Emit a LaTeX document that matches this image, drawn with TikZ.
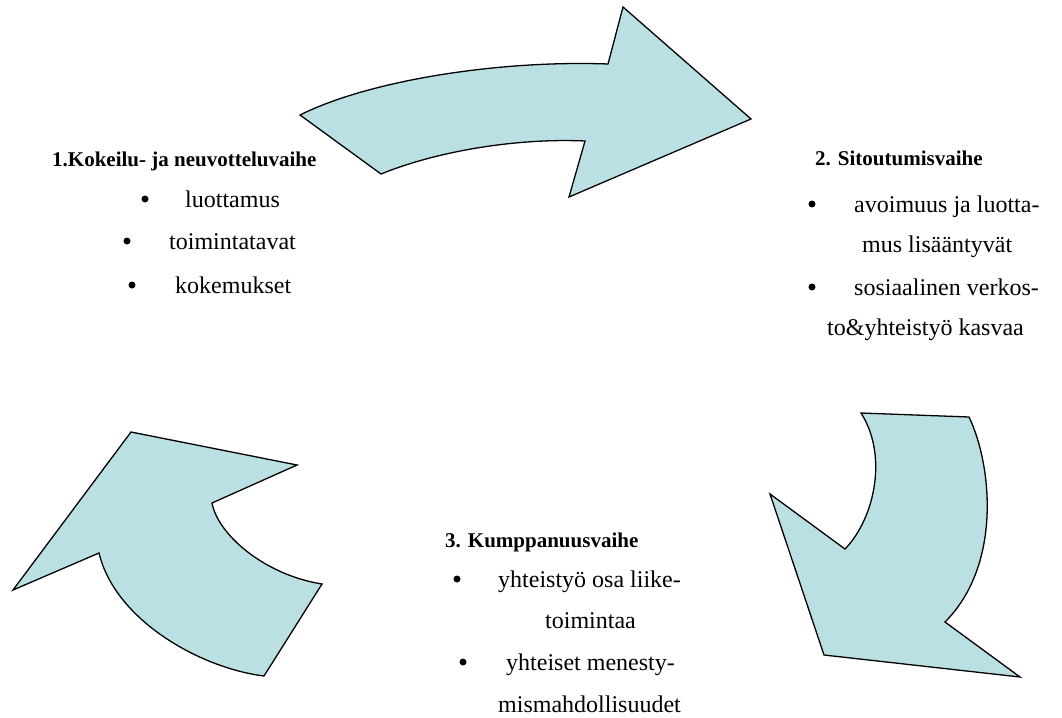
\documentclass[tikz,border=0pt]{standalone}
\usepackage{fontspec}
\setmainfont{Liberation Serif}
\definecolor{arrowfill}{HTML}{BBE0E3}
\tikzset{
  bigarrow/.style={fill=arrowfill, draw=black, line width=1.3pt, line join=miter},
  ttl/.style={anchor=base west, inner sep=0pt, font=\fontsize{21}{25}\selectfont\bfseries},
  txt/.style={anchor=base west, inner sep=0pt, font=\fontsize{24}{28}\selectfont},
  bul/.style={circle, fill=black, inner sep=0pt, minimum size=7pt}
}
\begin{document}
\begin{tikzpicture}[x=1pt, y=-1pt]
\useasboundingbox (0,0) rectangle (1062,717);
% top arrow
\draw[bigarrow] (300,115) .. controls (370,80) and (500,60) .. (608,64)
  -- (623,7) -- (751,119) -- (569,197) -- (585,141)
  .. controls (520,138) and (440,150) .. (381,174) -- cycle;
% right arrow
\draw[bigarrow] (861,413) -- (969,417) .. controls (992,465) and (1002,565) .. (945,622)
  -- (1020,677) -- (824,655) -- (770,494) -- (845,549)
  .. controls (875,518) and (888,455) .. (861,413) -- cycle;
% left arrow
\draw[bigarrow] (131,432) -- (297,465) -- (212,503)
  .. controls (218,535) and (265,575) .. (322,584) -- (264,676)
  .. controls (200,668) and (115,620) .. (99,553) -- (13,590) -- cycle;
% panel 1
\node[ttl] (t1) at (52,166) {1.Kokeilu- ja neuvotteluvaihe};
\node[bul] (b11) at (145,199) {};
\node[txt] (l11) at (185,207) {luottamus};
\node[bul] (b12) at (127,241) {};
\node[txt] (l12) at (169,249) {toimintatavat};
\node[bul] (b13) at (132,285) {};
\node[txt] (l13) at (175,293) {kokemukset};
% panel 2
\node[ttl] (t2) at (815,165) {2. Sitoutumisvaihe};
\node[bul] (b21) at (812,204) {};
\node[txt] (l21) at (854,212) {avoimuus ja luotta-};
\node[txt] (l22) at (862,252) {mus lisääntyvät};
\node[bul] (b22) at (812,287) {};
\node[txt] (l23) at (854,295) {sosiaalinen verkos-};
\node[txt] (l24) at (827,335) {to\&yhteistyö kasvaa};
% panel 3
\node[ttl] (t3) at (445,547) {3. Kumppanuusvaihe};
\node[bul] (b31) at (457,579) {};
\node[txt] (l31) at (498,587) {yhteistyö osa liike-};
\node[txt] (l32) at (545,628) {toimintaa};
\node[bul] (b32) at (463,662) {};
\node[txt] (l33) at (506,670) {yhteiset menesty-};
\node[txt] (l34) at (498,712) {mismahdollisuudet};
\end{tikzpicture}
\end{document}
